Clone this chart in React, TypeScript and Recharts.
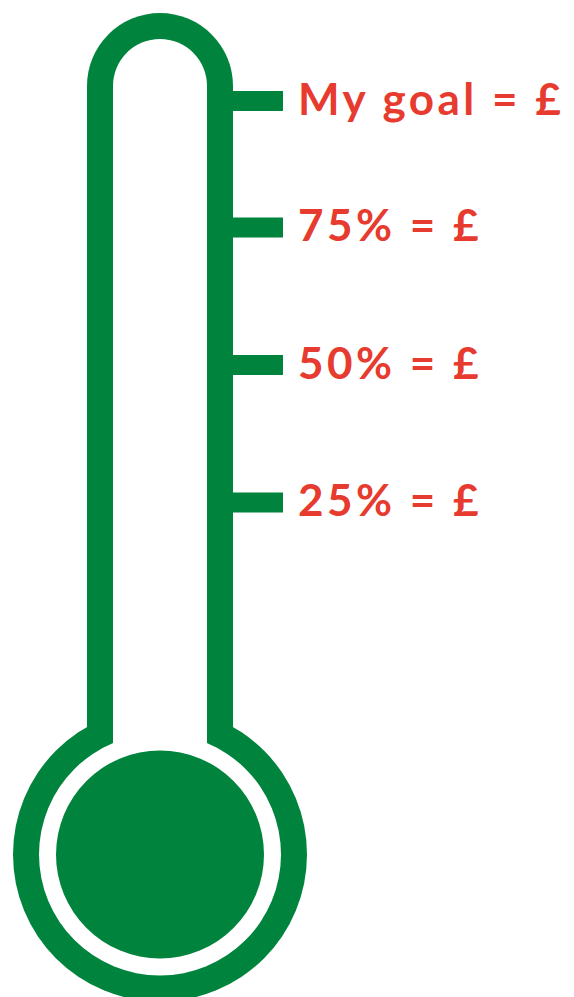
import { BarChart, Bar, XAxis, YAxis } from 'recharts';

const GREEN = '#00843D';
const RED = '#E63B2E';

// thermometer spans from the bulb centre up to the top of the tube
const categories = ['thermometer'];
const tubeRange: [number, number] = [-39, 114];

// tick marks on the right of the tube
const tickValues = [25, 50, 75, 98];
const tickLabels = ['25% = £', '50% = £', '75% = £', 'My goal = £'];

const data = categories.map((name) => ({ name, tube: tubeRange }));

const labelFor = (v: number) => {
    const i = tickValues.indexOf(v);
    return i >= 0 ? tickLabels[i] : '';
};

function Thermometer(props: any) {
    const { x, y, width, height } = props;
    const top = Math.min(y, y + height);
    const bottom = Math.max(y, y + height);
    const cx = x + width / 2;
    const r = width / 2;
    const wall = 26;
    const ri = r - wall;

    const tubePath = (half: number, topY: number) =>
        `M ${cx - half} ${bottom} L ${cx - half} ${topY + half} A ${half} ${half} 0 0 1 ${cx + half} ${topY + half} L ${cx + half} ${bottom} Z`;

    return (
        <g>
            <path d={tubePath(r, top)} fill={GREEN} />
            <circle cx={cx} cy={bottom} r={147} fill={GREEN} />
            <path d={tubePath(ri, top + wall)} fill="#ffffff" />
            <circle cx={cx} cy={bottom} r={121} fill="#ffffff" />
            <circle cx={cx} cy={bottom} r={104} fill={GREEN} />
        </g>
    );
}

export default function App() {
    return (
        <div style={{ position: 'absolute', left: 0, top: 0, background: '#ffffff' }}>
            <BarChart
                width={574}
                height={997}
                data={data}
                margin={{ top: 13, right: 0, bottom: 142.5, left: 87 }}
                barCategoryGap={0}
            >
                <XAxis dataKey="name" hide />
                <YAxis
                    orientation="right"
                    width={341}
                    domain={[-39, 114]}
                    ticks={tickValues}
                    interval={0}
                    axisLine={false}
                    tickSize={50}
                    tickMargin={15}
                    tickLine={{ stroke: GREEN, strokeWidth: 20 }}
                    tickFormatter={labelFor}
                    tick={{ fill: RED, fontSize: 44, fontWeight: 700, fontFamily: 'Lato', letterSpacing: 3.5, dy: -2 }}
                />
                <Bar dataKey="tube" shape={<Thermometer />} isAnimationActive={false} />
            </BarChart>
        </div>
    );
}
